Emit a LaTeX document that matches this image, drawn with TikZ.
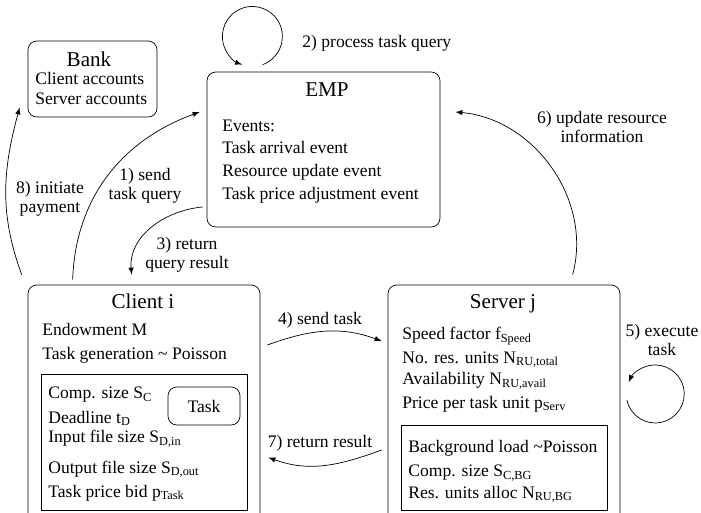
\documentclass[tikz,border=0pt]{standalone}
\usepackage{fontspec}
\setmainfont{Liberation Serif}
\usetikzlibrary{arrows,positioning,calc}

\begin{document}
\begin{tikzpicture}[
    box/.style={draw,rectangle,rounded corners=5pt,inner sep=0pt},
    subbox/.style={draw,rectangle,inner sep=0pt},
    title/.style={anchor=base,inner sep=0pt,font=\large},
    entry/.style={anchor=base west,inner sep=0pt},
    lbl/.style={align=center,inner sep=0pt,font=\fontsize{10}{10.5}\selectfont},
    flow/.style={->,>=latex}
  ]
  \clip (0,0) rectangle (14.02,10.24);

  % bank
  \node[box,minimum width=2.58cm,minimum height=1.52cm] (bank) at (1.85,8.66) {};
  \node[title] (banktitle) at (1.78,8.90) {Bank};
  \node[entry] (acc1) at (0.70,8.54) {Client accounts};
  \node[entry] (acc2) at (0.70,8.14) {Server accounts};

  % market place
  \node[box,minimum width=4.66cm,minimum height=3.10cm] (emp) at (6.47,7.25) {};
  \node[title] (emptitle) at (6.54,8.30) {EMP};
  \node[entry] (ev0) at (4.44,7.60) {Events:};
  \node[entry] (ev1) at (4.44,7.16) {Task arrival event};
  \node[entry] (ev2) at (4.44,6.70) {Resource update event};
  \node[entry] (ev3) at (4.44,6.24) {Task price adjustment event};

  % client
  \node[box,minimum width=4.64cm,minimum height=4.90cm] (client) at (2.88,2.09) {};
  \node[title] (clienttitle) at (2.86,4.06) {Client i};
  \node[entry] (cl1) at (0.84,3.52) {Endowment M};
  \node[entry] (cl2) at (0.84,3.06) {Task generation \textasciitilde{} Poisson};
  \node[subbox,minimum width=4.12cm,minimum height=2.72cm] (taskbox) at (2.88,1.40) {};
  \node[box,minimum width=1.44cm,minimum height=0.76cm] (task) at (4.08,2.12) {Task};
  \node[entry] (tk1) at (0.96,2.26) {Comp. size S\textsubscript{C}};
  \node[entry] (tk2) at (0.96,1.78) {Deadline t\textsubscript{D}};
  \node[entry] (tk3) at (0.96,1.38) {Input file size S\textsubscript{D,in}};
  \node[entry] (tk4) at (0.96,0.78) {Output file size S\textsubscript{D,out}};
  \node[entry] (tk5) at (0.96,0.30) {Task price bid p\textsubscript{Task}};

  % server
  \node[box,minimum width=4.64cm,minimum height=4.90cm] (server) at (10.08,2.09) {};
  \node[title] (servertitle) at (10.06,4.06) {Server j};
  \node[entry] (sv1) at (8.04,3.44) {Speed factor f\textsubscript{Speed}};
  \node[entry] (sv2) at (8.04,2.98) {No. res. units N\textsubscript{RU,total}};
  \node[entry] (sv3) at (8.04,2.54) {Availability N\textsubscript{RU,avail}};
  \node[entry] (sv4) at (8.04,2.08) {Price per task unit p\textsubscript{Serv}};
  \node[subbox,minimum width=4.12cm,minimum height=1.70cm] (bgbox) at (10.08,0.89) {};
  \node[entry] (bg1) at (8.16,1.20) {Background load \textasciitilde Poisson};
  \node[entry] (bg2) at (8.16,0.70) {Comp. size S\textsubscript{C,BG}};
  \node[entry] (bg3) at (8.16,0.28) {Res. units alloc N\textsubscript{RU,BG}};

  % message flow
  \draw[flow] ([xshift=0.90cm,yshift=0.1cm]client.north west) to[out=88,in=200]
    ([xshift=-0.14cm,yshift=0.75cm]emp.west);
  \node[lbl] (l1) at (2.90,6.52) {1) send\\task query};

  \draw[flow] ([xshift=1.12cm,yshift=0.14cm]emp.north west)
    arc[start angle=-70,end angle=250,radius=0.6cm];
  \node[lbl,anchor=west] (l2) at (6.04,9.38) {2) process task query};

  \draw[flow] ([xshift=-0.08cm,yshift=-1.15cm]emp.west) to[out=185,in=95]
    ([xshift=2.08cm,yshift=0.2cm]client.north west);
  \node[lbl] (l3) at (3.74,5.14) {3) return\\query result};

  \draw[flow] ([xshift=0.14cm,yshift=1.25cm]client.east) to[out=20,in=160]
    ([xshift=-0.12cm,yshift=1.33cm]server.west);
  \node[lbl] (l4) at (6.40,3.84) {4) send task};

  \draw[flow] ([xshift=0.13cm,yshift=0.15cm]server.east)
    arc[start angle=192,end angle=516,radius=0.58cm];
  \node[lbl] (l5) at (13.24,3.44) {5) execute\\task};

  \draw[flow] ([xshift=3.70cm,yshift=0.2cm]server.north west) to[out=75,in=355]
    ([xshift=0.3cm,yshift=0.75cm]emp.east);
  \node[lbl] (l6) at (12.04,7.70) {6) update resource\\information};

  \draw[flow] ([xshift=-0.12cm,yshift=-0.85cm]server.west) to[out=200,in=340]
    ([xshift=0.16cm,yshift=-1.0cm]client.east);
  \node[lbl] (l7) at (6.40,1.38) {7) return result};

  \draw[flow] ([xshift=-0.12cm,yshift=0.2cm]client.north west) to[out=110,in=255]
    ([xshift=-0.16cm,yshift=0.2cm]bank.south west);
  \node[lbl] (l8) at (1.00,6.26) {8) initiate\\payment};
\end{tikzpicture}
\end{document}
